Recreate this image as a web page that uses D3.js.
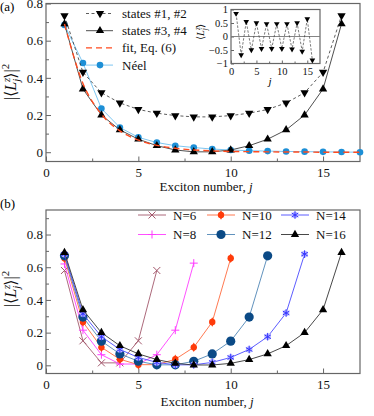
<!DOCTYPE html>
<html lang="en">
<head>
<meta charset="UTF-8">
<title>Exciton number chart</title>
<script src="https://d3js.org/d3.v7.min.js"></script>
<style>
  body { margin: 0; background: #fff; }
</style>
</head>
<body>
<div id="chart"></div>
<script>
// ---- data, panel (a) ----
var jA = d3.range(1, 17);
var states12 = [0.735, 0.43, 0.32, 0.265, 0.23, 0.21, 0.197, 0.19, 0.19, 0.197, 0.21, 0.23, 0.265, 0.32, 0.43, 0.735];
var states34 = [0.69, 0.34, 0.2, 0.12, 0.07, 0.035, 0.012, 0.002, 0.002, 0.012, 0.035, 0.07, 0.12, 0.2, 0.34, 0.69];
var fitJ = d3.range(1, 18);
var fitVals = [0.69, 0.37, 0.205, 0.115, 0.065, 0.037, 0.021, 0.012, 0.007, 0.004, 0.003, 0.002, 0.001, 0.001, 0.0, 0.0, 0.0];
var neelJ = d3.range(1, 18);
var neelVals = [0.685, 0.48, 0.235, 0.133, 0.08, 0.052, 0.035, 0.025, 0.017, 0.012, 0.008, 0.006, 0.004, 0.003, 0.002, 0.001, 0.0];
// inset: <L_j^z>
var insetVals = [0.85, -0.68, 0.55, -0.5, 0.5, -0.45, 0.47, -0.45, 0.47, -0.45, 0.47, -0.47, 0.5, -0.55, 0.65, -0.88];

// ---- data, panel (b) ----
var seriesNames = ["N=6", "N=8", "N=10", "N=12", "N=14", "N=16"];
var n6  = [0.58, 0.15, 0.015, 0.015, 0.15, 0.58];
var n8  = [0.62, 0.215, 0.065, 0.008, 0.008, 0.065, 0.215, 0.625];
var n10 = [0.655, 0.265, 0.11, 0.037, 0.004, 0.004, 0.037, 0.11, 0.265, 0.655];
var n12 = [0.67, 0.295, 0.148, 0.07, 0.025, 0.003, 0.003, 0.025, 0.07, 0.148, 0.295, 0.67];
var n14 = [0.68, 0.315, 0.175, 0.097, 0.048, 0.018, 0.003, 0.003, 0.018, 0.048, 0.097, 0.175, 0.32, 0.68];
var n16 = [0.69, 0.34, 0.2, 0.12, 0.07, 0.035, 0.012, 0.002, 0.002, 0.012, 0.035, 0.07, 0.12, 0.2, 0.34, 0.69];
var seriesB = [n6, n8, n10, n12, n14, n16];

// ---- ticks ----
var xTicks = [0, 5, 10, 15];
var xMinor = [2.5, 7.5, 12.5];
var yTicksA = [0, 0.2, 0.4, 0.6, 0.8];
var yMinorA = [0.1, 0.3, 0.5, 0.7];
var yTicksB = [0, 0.2, 0.4, 0.6, 0.8];
var yMinorB = [0.1, 0.3, 0.5, 0.7, 0.9];
var insetXTicks = [0, 5, 10, 15];
var insetXMinor = [2.5, 7.5, 12.5];
var insetYTicks = [-1, -0.5, 0, 0.5, 1];

var W = 374, H = 416;
var frameCol = "#666";
var SERIF = "'Liberation Serif', 'Times New Roman', 'DejaVu Serif', serif";

var svg = d3.select("#chart").append("svg")
    .attr("width", W).attr("height", H)
    .style("display", "block");

function fmt(d) {
    if (d === 0) return "0";
    var s = (Math.abs(d) === 1) ? "1" : Math.abs(d).toFixed(1);
    return (d < 0 ? "\u2212" : "") + s;
}

function drawAxes(g, x, y, opt) {
    var xr = x.range(), yr = y.range();
    g.append("g")
        .attr("transform", "translate(0," + yr[0] + ")")
        .call(d3.axisBottom(x).tickValues(opt.xt).tickSize(-opt.major).tickPadding(opt.xpad).tickFormat(d3.format("d")))
        .call(s => s.select(".domain").remove());
    g.append("g")
        .attr("transform", "translate(0," + yr[0] + ")")
        .call(d3.axisBottom(x).tickValues(opt.xm).tickSize(-opt.minor).tickFormat(""))
        .call(s => s.select(".domain").remove());
    g.append("g")
        .attr("transform", "translate(" + xr[0] + ",0)")
        .call(d3.axisLeft(y).tickValues(opt.yt).tickSize(-opt.major).tickPadding(opt.ypad).tickFormat(fmt))
        .call(s => s.select(".domain").remove());
    g.append("g")
        .attr("transform", "translate(" + xr[0] + ",0)")
        .call(d3.axisLeft(y).tickValues(opt.ym).tickSize(-opt.minor).tickFormat(""))
        .call(s => s.select(".domain").remove());
    g.selectAll(".tick line").attr("stroke", frameCol);
    g.selectAll(".tick text").attr("font-size", opt.fs).attr("fill", "#111");
    g.append("rect")
        .attr("x", xr[0]).attr("y", yr[1])
        .attr("width", xr[1] - xr[0]).attr("height", yr[0] - yr[1])
        .attr("fill", "none").attr("stroke", frameCol).attr("stroke-width", 1.2);
}

// |<L_j^z>|^2 label, rotated
function yLabel(x, y, fs) {
    var t = svg.append("text")
        .attr("transform", "translate(" + x + "," + y + ") rotate(-90)")
        .attr("text-anchor", "middle")
        .attr("font-size", fs).attr("fill", "#111");
    t.append("tspan").text("|\u27E8");
    t.append("tspan").attr("font-style", "italic").text("L");
    t.append("tspan").attr("font-style", "italic").attr("font-size", fs * 0.68).attr("dy", -6).text("z");
    t.append("tspan").attr("font-style", "italic").attr("font-size", fs * 0.68).attr("dx", -4).attr("dy", 10).text("j");
    t.append("tspan").attr("dy", -4).text("\u27E9|");
    t.append("tspan").attr("font-size", fs * 0.68).attr("dy", -7).text("2");
}

function xLabel(x, y) {
    var t = svg.append("text")
        .attr("x", x).attr("y", y)
        .attr("text-anchor", "middle")
        .attr("font-size", 13).attr("fill", "#111");
    t.append("tspan").text("Exciton number, ");
    t.append("tspan").attr("font-style", "italic").text("j");
}

// ================= panel (a) =================
var xa = d3.scaleLinear().domain([0, 17]).range([46, 360]);
var ya = d3.scaleLinear().domain([-0.05, 0.8]).range([161.5, 3.5]);
var ga = svg.append("g");
drawAxes(ga, xa, ya, { xt: xTicks, xm: xMinor, yt: yTicksA, ym: yMinorA, major: 5, minor: 3, xpad: 6, ypad: 3, fs: 13 });

var lineA = d3.line().x(d => xa(d[0])).y(d => ya(d[1]));
var triDown = d3.symbol().type(d3.symbolTriangle).size(30);

// Néel
var neel = neelJ.map((j, i) => [j, neelVals[i]]);
ga.append("path").datum(neel).attr("d", lineA)
    .attr("fill", "none").attr("stroke", "#6ec0ef").attr("stroke-width", 0.9);
ga.selectAll(".neel").data(neel).enter().append("circle")
    .attr("cx", d => xa(d[0])).attr("cy", d => ya(d[1])).attr("r", 3.3)
    .attr("fill", "#1d8fd6");

// states #3, #4
var s34 = jA.map((j, i) => [j, states34[i]]);
ga.append("path").datum(s34).attr("d", lineA)
    .attr("fill", "none").attr("stroke", "#222").attr("stroke-width", 0.8);
ga.selectAll(".s34").data(s34).enter().append("path")
    .attr("transform", d => "translate(" + xa(d[0]) + "," + ya(d[1]) + ")")
    .attr("d", triDown).attr("fill", "#000");

// fit
var fit = fitJ.map((j, i) => [j, fitVals[i]]);
ga.append("path").datum(fit).attr("d", d3.line().x(d => xa(d[0])).y(d => ya(d[1])).curve(d3.curveMonotoneX))
    .attr("fill", "none").attr("stroke", "#ff4b1f").attr("stroke-width", 1.4).attr("stroke-dasharray", "6,4");

// states #1, #2
var s12 = jA.map((j, i) => [j, states12[i]]);
ga.append("path").datum(s12).attr("d", lineA)
    .attr("fill", "none").attr("stroke", "#333").attr("stroke-width", 0.8).attr("stroke-dasharray", "3,2.5");
ga.selectAll(".s12").data(s12).enter().append("path")
    .attr("transform", d => "translate(" + xa(d[0]) + "," + ya(d[1]) + ") rotate(180)")
    .attr("d", triDown).attr("fill", "#000");

// legend (a)
var legA = [
    { name: "states #1, #2", stroke: "#333", dash: "3,2.5", w: 0.8, mark: "down" },
    { name: "states #3, #4", stroke: "#222", dash: null, w: 0.8, mark: "up" },
    { name: "fit, Eq. (6)", stroke: "#ff4b1f", dash: "6,4", w: 1.4, mark: null },
    { name: "N\u00E9el", stroke: "#6ec0ef", dash: null, w: 0.9, mark: "circ" }
];
legA.forEach(function(d, i) {
    var yy = 13.5 + i * 17.2;
    ga.append("line").attr("x1", 86).attr("x2", 113).attr("y1", yy).attr("y2", yy)
        .attr("stroke", d.stroke).attr("stroke-width", d.w).attr("stroke-dasharray", d.dash);
    if (d.mark === "down" || d.mark === "up") {
        ga.append("path").attr("transform", "translate(100," + yy + ")" + (d.mark === "down" ? " rotate(180)" : ""))
            .attr("d", triDown).attr("fill", "#000");
    } else if (d.mark === "circ") {
        ga.append("circle").attr("cx", 100).attr("cy", yy).attr("r", 3.3).attr("fill", "#1d8fd6");
    }
    ga.append("text").attr("x", 122).attr("y", yy + 4.5).attr("font-size", 13).attr("fill", "#111").text(d.name);
});

// inset
var xi = d3.scaleLinear().domain([0, 17.5]).range([231, 320]);
var yi = d3.scaleLinear().domain([-1, 1]).range([63.5, 9.5]);
var gi = svg.append("g");
gi.append("rect").attr("x", 231).attr("y", 9.5).attr("width", 89).attr("height", 54).attr("fill", "#fff");
drawAxes(gi, xi, yi, { xt: insetXTicks, xm: insetXMinor, yt: insetYTicks, ym: [], major: 3, minor: 2, xpad: 4, ypad: 3, fs: 10.5 });
gi.append("line").attr("x1", xi(0)).attr("x2", 320).attr("y1", yi(0)).attr("y2", yi(0))
    .attr("stroke", "#777").attr("stroke-width", 0.9);
var ins = jA.map((j, i) => [j, insetVals[i]]);
gi.append("path").datum(ins).attr("d", d3.line().x(d => xi(d[0])).y(d => yi(d[1])))
    .attr("fill", "none").attr("stroke", "#444").attr("stroke-width", 0.7).attr("stroke-dasharray", "2.5,1.5");
gi.selectAll(".ins").data(ins).enter().append("path")
    .attr("transform", d => "translate(" + xi(d[0]) + "," + yi(d[1]) + ") rotate(180)")
    .attr("d", d3.symbol().type(d3.symbolTriangle).size(14)).attr("fill", "#000");
svg.append("text").attr("x", 270).attr("y", 85).attr("font-size", 11).attr("font-style", "italic")
    .attr("text-anchor", "middle").text("j");
(function() {
    var t = svg.append("text")
        .attr("transform", "translate(204,32) rotate(-90)")
        .attr("text-anchor", "middle").attr("font-size", 10.5).attr("fill", "#111");
    t.append("tspan").text("\u27E8");
    t.append("tspan").attr("font-style", "italic").text("L");
    t.append("tspan").attr("font-style", "italic").attr("font-size", 7.5).attr("dy", -4).text("z");
    t.append("tspan").attr("font-style", "italic").attr("font-size", 7.5).attr("dx", -3).attr("dy", 7).text("j");
    t.append("tspan").attr("dy", -3).text("\u27E9");
})();

yLabel(16, 82, 16);
xLabel(206, 191);
svg.append("text").attr("x", 0).attr("y", 11).attr("font-size", 13).text("(a)");

// ================= panel (b) =================
var xb = d3.scaleLinear().domain([0, 17]).range([46, 360]);
var yb = d3.scaleLinear().domain([-0.05, 0.95]).range([373.5, 210]);
var gb = svg.append("g");
drawAxes(gb, xb, yb, { xt: xTicks, xm: xMinor, yt: yTicksB, ym: yMinorB, major: 5, minor: 3, xpad: 6, ypad: 3, fs: 13 });

var styleB = [
    { line: "#a3586c", mark: "#a3586c", shape: "x" },
    { line: "#ff3dff", mark: "#ff3dff", shape: "plus" },
    { line: "#ff6a3d", mark: "#ff3b0a", shape: "diamond" },
    { line: "#4f86b6", mark: "#0b4a86", shape: "circle" },
    { line: "#4a4aff", mark: "#3333ff", shape: "star" },
    { line: "#333", mark: "#000", shape: "tri" }
];

function drawMarker(g, cx, cy, st) {
    if (st.shape === "x") {
        g.append("path").attr("d", "M" + (cx - 3.5) + "," + (cy - 3.5) + "L" + (cx + 3.5) + "," + (cy + 3.5) +
            "M" + (cx - 3.5) + "," + (cy + 3.5) + "L" + (cx + 3.5) + "," + (cy - 3.5))
            .attr("stroke", st.mark).attr("stroke-width", 1);
    } else if (st.shape === "plus") {
        g.append("path").attr("d", "M" + (cx - 4) + "," + cy + "L" + (cx + 4) + "," + cy +
            "M" + cx + "," + (cy - 4) + "L" + cx + "," + (cy + 4))
            .attr("stroke", st.mark).attr("stroke-width", 1);
    } else if (st.shape === "diamond") {
        g.append("circle").attr("cx", cx).attr("cy", cy).attr("r", 3.2).attr("fill", st.mark);
        g.append("path").attr("transform", "translate(" + cx + "," + cy + ")")
            .attr("d", d3.symbol().type(d3.symbolDiamond).size(26)).attr("fill", st.mark);
    } else if (st.shape === "circle") {
        g.append("circle").attr("cx", cx).attr("cy", cy).attr("r", 4.6).attr("fill", st.mark);
    } else if (st.shape === "star") {
        g.append("circle").attr("cx", cx).attr("cy", cy).attr("r", 3.3).attr("fill", "#b8b8ff");
        g.append("path").attr("transform", "translate(" + cx + "," + cy + ")")
            .attr("d", d3.symbol().type(d3.symbolAsterisk).size(40)).attr("stroke", st.mark).attr("stroke-width", 1);
    } else {
        g.append("path").attr("transform", "translate(" + cx + "," + cy + ")")
            .attr("d", d3.symbol().type(d3.symbolTriangle).size(30)).attr("fill", st.mark);
    }
}

seriesB.forEach(function(vals, k) {
    var pts = vals.map((v, i) => [i + 1, v]);
    var st = styleB[k];
    gb.append("path").datum(pts).attr("d", d3.line().x(d => xb(d[0])).y(d => yb(d[1])))
        .attr("fill", "none").attr("stroke", st.line).attr("stroke-width", 0.9);
    pts.forEach(function(p) { drawMarker(gb, xb(p[0]), yb(p[1]), st); });
});

// legend (b): 3 columns, 2 rows
var legCols = [138, 207, 281];
var legRows = [215, 234.5];
seriesNames.forEach(function(name, k) {
    var cx0 = legCols[Math.floor(k / 2)], yy = legRows[k % 2];
    var st = styleB[k];
    gb.append("line").attr("x1", cx0).attr("x2", cx0 + 28).attr("y1", yy).attr("y2", yy)
        .attr("stroke", st.line).attr("stroke-width", 0.9);
    drawMarker(gb, cx0 + 14, yy, st);
    gb.append("text").attr("x", cx0 + 35).attr("y", yy + 4.5).attr("font-size", 13).attr("fill", "#111").text(name);
});

yLabel(16, 289, 16);
xLabel(207, 406);
svg.append("text").attr("x", 0).attr("y", 208).attr("font-size", 13).text("(b)");

// serif everywhere (axis groups default to sans-serif)
svg.selectAll("g").attr("font-family", null);
svg.selectAll("text").attr("font-family", SERIF);
</script>
</body>
</html>
